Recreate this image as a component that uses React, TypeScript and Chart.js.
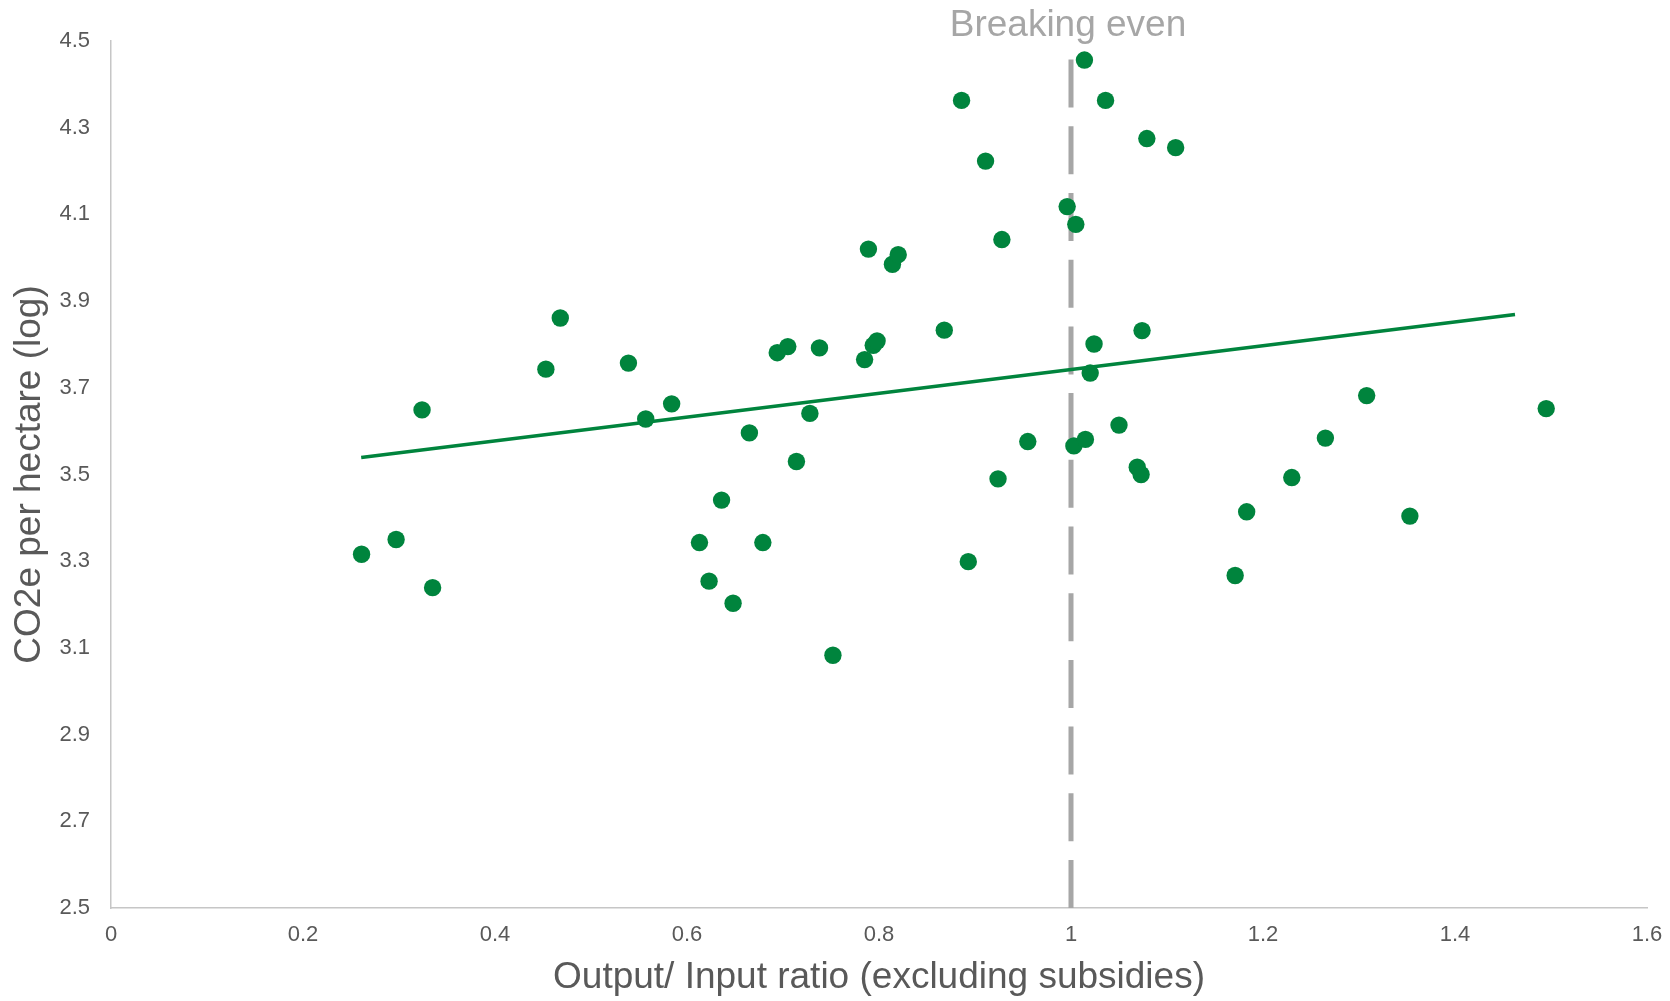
import React, { useEffect, useRef } from "react";
import { Chart, registerables } from "chart.js";

Chart.register(...registerables);

const ratioValues: number[] = [
  0.261, 0.297, 0.324, 0.335, 0.453, 0.468, 0.539, 0.557, 0.584, 0.613,
  0.623, 0.636, 0.648, 0.665, 0.679, 0.694, 0.705, 0.714, 0.728, 0.738,
  0.752, 0.785, 0.789, 0.794, 0.798, 0.814, 0.820, 0.868, 0.886, 0.893,
  0.911, 0.924, 0.928, 0.955, 0.996, 1.003, 1.005, 1.014, 1.015, 1.020,
  1.024, 1.036, 1.050, 1.069, 1.073, 1.074, 1.079, 1.109, 1.171, 1.183,
  1.230, 1.265, 1.308, 1.353, 1.495,
];

const co2Values: number[] = [
  3.316, 3.350, 3.649, 3.239, 3.743, 3.861, 3.757, 3.628, 3.663, 3.343,
  3.254, 3.441, 3.203, 3.596, 3.343, 3.781, 3.795, 3.530, 3.641, 3.792,
  3.083, 3.765, 4.020, 3.798, 3.808, 3.985, 4.007, 3.833, 4.363, 3.299,
  4.223, 3.490, 4.042, 3.576, 4.118, 3.566, 4.077, 4.456, 3.581, 3.734,
  3.801, 4.363, 3.614, 3.517, 3.500, 3.832, 4.275, 4.254, 3.267, 3.414,
  3.493, 3.584, 3.682, 3.404, 3.652,
];

const trendX: number[] = [0.2606, 1.4625];
const trendY: number[] = [3.539, 3.869];

const breakEvenX = 1;
const breakEvenLabel = "Breaking even";

const xTitle = "Output/ Input ratio (excluding subsidies)";
const yTitle = "CO2e per hectare (log)";

const xMin = 0;
const xMax = 1.6;
const xStep = 0.2;
const yMin = 2.5;
const yMax = 4.5;
const yStep = 0.2;

const GREEN = "#00843D";
const GREY_DASH = "#A6A6A6";
const TEXT = "#595959";
const AXIS = "#C6C6C6";
const FONT = "'Liberation Sans', Arial, sans-serif";

const breakEvenPlugin = {
  id: "breakEvenLabel",
  afterDraw(chart: any) {
    const { ctx, chartArea, scales } = chart;
    const x = scales.x.getPixelForValue(breakEvenX);
    ctx.save();
    ctx.font = `37px ${FONT}`;
    ctx.fillStyle = GREY_DASH;
    ctx.textAlign = "center";
    ctx.textBaseline = "alphabetic";
    ctx.fillText(breakEvenLabel, x - 3, chartArea.top - 5);
    ctx.restore();
  },
};

export default function App() {
  const canvasRef = useRef<HTMLCanvasElement | null>(null);

  useEffect(() => {
    if (!canvasRef.current) return;
    const points = ratioValues.map((v, i) => ({ x: v, y: co2Values[i] }));
    const trend = trendX.map((v, i) => ({ x: v, y: trendY[i] }));
    const dash = [
      { x: breakEvenX, y: yMin },
      { x: breakEvenX, y: yMax },
    ];

    const chart = new Chart(canvasRef.current, {
      type: "scatter",
      data: {
        datasets: [
          {
            type: "line",
            label: "Trend",
            data: trend,
            borderColor: GREEN,
            borderWidth: 3.5,
            pointRadius: 0,
            fill: false,
            showLine: true,
          } as any,
          {
            label: "Farms",
            data: points,
            backgroundColor: GREEN,
            borderWidth: 0,
            pointRadius: 8.7,
            pointHoverRadius: 8.7,
          },
          {
            type: "line",
            label: "Breaking even",
            data: dash,
            borderColor: GREY_DASH,
            borderWidth: 5,
            borderDash: [48, 18.7],
            pointRadius: 0,
            fill: false,
            showLine: true,
          } as any,
        ],
      },
      plugins: [breakEvenPlugin],
      options: {
        animation: false,
        responsive: false,
        devicePixelRatio: 1,
        layout: { autoPadding: false, padding: { top: 41, right: 23, bottom: 0, left: 0 } },
        plugins: {
          legend: { display: false },
          tooltip: { enabled: false },
        },
        scales: {
          x: {
            type: "linear",
            min: xMin,
            max: xMax,
            ticks: {
              stepSize: xStep,
              padding: 14,
              color: TEXT,
              font: { family: FONT, size: 22 },
              callback: (v: any) => String(Number(Number(v).toFixed(1))),
            },
            grid: { display: true, drawOnChartArea: false, drawTicks: false },
            border: { display: true, color: AXIS, width: 1.5 },
            title: {
              display: true,
              text: xTitle,
              color: TEXT,
              font: { family: FONT, size: 37 },
              padding: { top: 0, bottom: 1 },
            },
            afterFit: (scale: any) => {
              scale.height = 93;
              scale.paddingLeft = 0;
              scale.paddingRight = 0;
            },
          },
          y: {
            type: "linear",
            min: yMin,
            max: yMax,
            ticks: {
              stepSize: yStep,
              padding: 21,
              color: TEXT,
              font: { family: FONT, size: 22 },
              callback: (v: any) => Number(v).toFixed(1),
            },
            grid: { display: true, drawOnChartArea: false, drawTicks: false },
            border: { display: true, color: AXIS, width: 1.5 },
            title: {
              display: true,
              text: yTitle,
              color: TEXT,
              font: { family: FONT, size: 37 },
              padding: { top: 8, bottom: 0 },
            },
            afterFit: (scale: any) => {
              scale.width = 111;
              scale.paddingTop = 0;
              scale.paddingBottom = 0;
            },
          },
        },
      } as any,
    });

    return () => chart.destroy();
  }, []);

  return (
    <div style={{ position: "fixed", left: 0, top: 0, width: 1670, height: 1001, background: "#fff" }}>
      <canvas ref={canvasRef} width={1670} height={1001} style={{ display: "block" }} />
    </div>
  );
}
